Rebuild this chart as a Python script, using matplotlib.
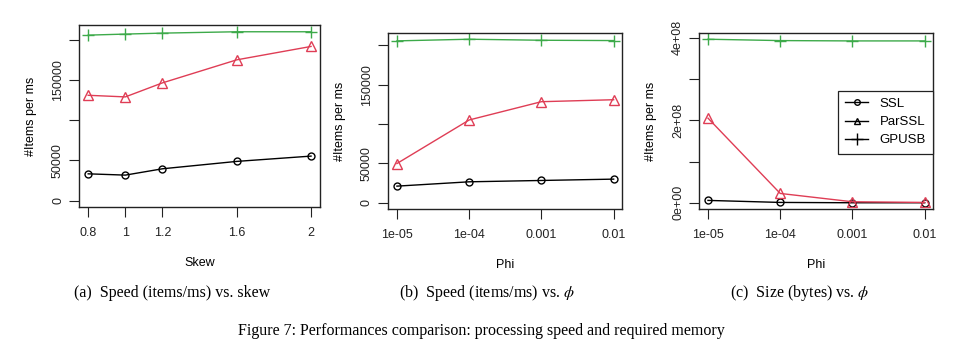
import matplotlib
matplotlib.use("Agg")
import matplotlib.pyplot as plt
from matplotlib.lines import Line2D

plt.rcParams['font.family'] = ['Liberation Sans', 'DejaVu Sans']
plt.rcParams['mathtext.fontset'] = 'stix'

# data
skew = [0.8, 1, 1.2, 1.6, 2]
ssl_skew = [33300, 31700, 39600, 48800, 55400]
parssl_skew = [131200, 129200, 146700, 175400, 192100]
gpusb_skew = [206200, 207500, 208700, 210400, 210400]

phi_labels = ["1e-05", "1e-04", "0.001", "0.01"]
phi_pos = [1, 2, 3, 4]
ssl_phi = [21100, 26600, 28300, 30000]
parssl_phi = [49800, 105100, 128300, 130800]
gpusb_phi = [205500, 207600, 206300, 205900]

ssl_size = [5.7e6, 0.8e6, 0.0, 0.0]
parssl_size = [2.053e8, 2.26e7, 2.4e6, 0.8e6]
gpusb_size = [3.968e8, 3.935e8, 3.927e8, 3.927e8]

series_names = ["SSL", "ParSSL", "GPUSB"]
red = "#DF3D55"
green = "#3DAA4A"

fig = plt.figure(figsize=(9.8, 3.64), dpi=100)

def style_ax(ax, x, ys, yticks, ylabels, xticks, xlabels, xlabel):
    allv = [v for s in ys for v in s]
    ymax = max(allv)
    ax.set_ylim(-0.04 * ymax, ymax * 1.04)
    dx = (max(x) - min(x)) * 0.04
    ax.set_xlim(min(x) - dx, max(x) + dx)
    ax.set_yticks(yticks)
    ax.set_yticklabels(ylabels, rotation=90, va='center')
    ax.set_xticks(xticks)
    ax.set_xticklabels(xlabels)
    ax.tick_params(direction='out', length=7, width=0.8, labelsize=9, colors='#222222')
    ax.tick_params(axis='y', pad=4)
    ax.tick_params(axis='x', pad=7)
    for s in ax.spines.values():
        s.set_linewidth(1.0)
        s.set_color('#222222')
    ax.set_xlabel(xlabel, fontsize=9, labelpad=13)
    ax.set_ylabel("#Items per ms", fontsize=9, labelpad=11)

def draw(ax, x, ssl, par, gpu):
    ax.plot(x, ssl, color='black', lw=1, marker='o', mfc='none', ms=5, mew=1)
    ax.plot(x, par, color=red, lw=1, marker='^', mfc='none', ms=7, mew=1)
    ax.plot(x, gpu, color=green, lw=1, marker='+', ms=8, mew=1)

# (a)
ax1 = fig.add_axes([0.0809, 0.4305, 0.2456, 0.5008])
draw(ax1, skew, ssl_skew, parssl_skew, gpusb_skew)
style_ax(ax1, skew, [ssl_skew, parssl_skew, gpusb_skew],
         [0, 50000, 100000, 150000, 200000], ["0", "50000", "", "150000", ""],
         skew, ["0.8", "1", "1.2", "1.6", "2"], "Skew")

# (b)
ax2 = fig.add_axes([0.3962, 0.425, 0.2388, 0.4852])
draw(ax2, phi_pos, ssl_phi, parssl_phi, gpusb_phi)
style_ax(ax2, phi_pos, [ssl_phi, parssl_phi, gpusb_phi],
         [0, 50000, 100000, 150000, 200000], ["0", "50000", "", "150000", ""],
         phi_pos, phi_labels, "Phi")

# (c)
ax3 = fig.add_axes([0.7136, 0.425, 0.2388, 0.4852])
draw(ax3, phi_pos, ssl_size, parssl_size, gpusb_size)
style_ax(ax3, phi_pos, [ssl_size, parssl_size, gpusb_size],
         [0, 1e8, 2e8, 3e8, 4e8], ["0e+00", "", "2e+08", "", "4e+08"],
         phi_pos, phi_labels, "Phi")

handles = [
    Line2D([], [], color='black', lw=1, marker='o', mfc='none', ms=4),
    Line2D([], [], color='black', lw=1, marker='^', mfc='none', ms=5),
    Line2D([], [], color='black', lw=1, marker='+', ms=8),
]
leg = ax3.legend(handles, series_names, loc='upper right', bbox_to_anchor=(1.0, 0.672),
                 borderaxespad=0, fancybox=False, edgecolor='#222222', framealpha=1,
                 fontsize=9.5, handlelength=1.7, labelspacing=0.45, borderpad=0.55,
                 handletextpad=0.9)
leg.get_frame().set_linewidth(0.9)

# captions
serif = ['Liberation Serif', 'DejaVu Serif']
fig.text(172 / 980, 1 - 293 / 364, r"(a)  Speed (items/ms) vs. skew", ha='center', va='center',
         family=serif, fontsize=11.5)
fig.text(487 / 980, 1 - 293 / 364, r"(b)  Speed (items/ms) vs. $\phi$", ha='center', va='center',
         family=serif, fontsize=11.5)
fig.text(800 / 980, 1 - 293 / 364, r"(c)  Size (bytes) vs. $\phi$", ha='center', va='center',
         family=serif, fontsize=11.5)
fig.text(481 / 980, 1 - 331 / 364, "Figure 7: Performances comparison: processing speed and required memory",
         ha='center', va='center', family=serif, fontsize=11.5)

fig.savefig("out.png", dpi=100, facecolor='white')
